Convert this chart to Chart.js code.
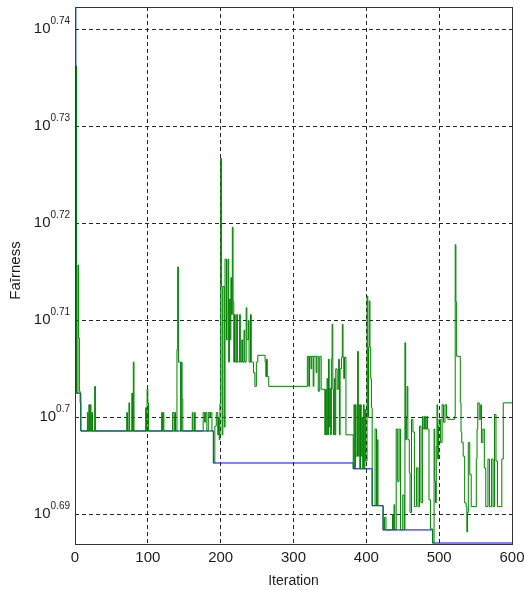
<!DOCTYPE html>
<html>
<head>
<meta charset="utf-8">
<title>Fairness vs Iteration</title>
<script src="https://cdn.jsdelivr.net/npm/chart.js@4/dist/chart.umd.min.js"></script>
<style>
  html, body { margin: 0; padding: 0; background: #ffffff; }
  canvas { display: block; }
</style>
</head>
<body>
<canvas id="chart" width="524" height="590"></canvas>
<script>
// Axis ticks
const xTickValues = [0, 100, 200, 300, 400, 500, 600];
const yTickExponents = [0.69, 0.70, 0.71, 0.72, 0.73, 0.74];

// Current fairness per iteration (log10 value, held until the next change point)
const currentIter = [
  0, 1, 2, 4, 5, 6, 7, 8, 17, 18, 19, 20, 21, 22, 23, 24, 27, 28,
  71, 72, 74, 75, 78, 79, 80, 81, 97, 98, 99, 100, 101,
  119, 120, 121, 122, 134, 136, 137, 138, 140, 141, 142, 145, 146, 147, 148,
  161, 162, 164, 165, 176, 178, 179, 181, 183, 185, 186, 188,
  190, 192, 194, 196, 197, 198, 199, 200, 201, 202, 203, 205, 206, 208,
  210, 211, 212, 213, 214, 215, 216, 217, 218, 219, 220, 222, 223, 226, 227, 229,
  230, 232, 233, 235, 236, 238, 239, 241, 242, 245, 247, 249, 251,
  261, 262, 263, 264, 266,
  319, 321, 322, 324, 325, 327, 328, 331, 332, 334, 336, 338,
  343, 344, 345, 346, 347, 348, 349, 350, 351, 352, 353, 354, 355, 356, 357, 358,
  360, 362, 363, 364, 366, 367, 368, 369, 370, 372,
  382, 383, 384, 385, 386, 388, 389, 390, 391, 392, 393, 394, 395, 396, 397, 398, 399,
  401, 402, 403, 404, 405, 406, 407, 408, 412, 414, 415, 416, 423, 425, 427,
  436, 437, 438, 439, 441, 443, 445, 447, 450, 452, 453, 454, 455, 456, 457, 459,
  460, 462, 464, 466, 469, 471, 473, 475, 477, 478, 480, 481, 483, 484, 486, 488,
  491, 493, 494, 495, 496, 497, 498, 499, 500, 502, 504, 506, 508, 510, 512,
  521, 522, 523, 524, 529, 530, 531, 533, 535, 537, 538, 539,
  540, 542, 544, 551, 552, 553, 555, 557, 558, 560, 562, 564, 567, 569,
  572, 574, 576, 578, 580, 586, 588, 600
];
const currentLogFairness = [
  0.7450, 0.7362, 0.7025, 0.7157, 0.7082, 0.7027, 0.7015, 0.6986, 0.7005, 0.6986, 0.7013, 0.6986, 0.7013, 0.6986, 0.7005, 0.6986, 0.7032, 0.6986,
  0.7005, 0.6986, 0.7015, 0.6986, 0.7025, 0.6986, 0.7057, 0.6986, 0.7010, 0.6986, 0.7029, 0.7015, 0.6986,
  0.7005, 0.6986, 0.7005, 0.6986, 0.7005, 0.6986, 0.7005, 0.6986, 0.7070, 0.7155, 0.7057, 0.6986, 0.7057, 0.7019, 0.6986,
  0.7005, 0.6986, 0.7005, 0.6986, 0.7005, 0.6995, 0.7005, 0.6986, 0.7005, 0.7000, 0.7005, 0.6986,
  0.6953, 0.6991, 0.7005, 0.6982, 0.7000, 0.6977, 0.7014, 0.7267, 0.7135, 0.6982, 0.7135, 0.6990, 0.7163, 0.7080,
  0.7163, 0.7057, 0.7122, 0.7080, 0.7144, 0.7106, 0.7196, 0.7119, 0.7057, 0.7106, 0.7057, 0.7106, 0.7057, 0.7106, 0.7057, 0.7080,
  0.7057, 0.7090, 0.7057, 0.7113, 0.7080, 0.7100, 0.7057, 0.7106, 0.7057, 0.7046, 0.7032, 0.7057, 0.7064,
  0.7057, 0.7042, 0.7060, 0.7042, 0.7032,
  0.7063, 0.7032, 0.7063, 0.7050, 0.7063, 0.7032, 0.7063, 0.7046, 0.7063, 0.7027, 0.7063, 0.7029,
  0.6982, 0.7029, 0.6982, 0.7040, 0.6982, 0.7060, 0.6990, 0.7030, 0.6982, 0.7060, 0.7096, 0.7029, 0.6982, 0.7040, 0.6982, 0.7050,
  0.7029, 0.7060, 0.6982, 0.7050, 0.7062, 0.7096, 0.7062, 0.7040, 0.7062, 0.6982,
  0.6947, 0.7013, 0.6947, 0.7013, 0.6960, 0.7068, 0.6960, 0.7013, 0.6947, 0.7013, 0.6960, 0.7000, 0.6947, 0.7013, 0.6947, 0.7008, 0.6955,
  0.7125, 0.7000, 0.7072, 0.7120, 0.7072, 0.7040, 0.7010, 0.6909, 0.6988, 0.6909, 0.6977, 0.6909, 0.6884, 0.6897, 0.6884,
  0.6900, 0.6884, 0.6910, 0.6884, 0.6988, 0.6934, 0.6988, 0.6884, 0.6920, 0.6884, 0.7077, 0.6977, 0.7001, 0.7032, 0.6977, 0.6943,
  0.6902, 0.6998, 0.6985, 0.6908, 0.6948, 0.6908, 0.6991, 0.6912, 0.7001, 0.6988, 0.7001, 0.6988, 0.7001, 0.6988, 0.6915, 0.6885,
  0.68705, 0.6988, 0.6934, 0.6912, 0.6970, 0.7013, 0.6957, 0.6991, 0.6998, 0.6974, 0.7013, 0.6995, 0.7013, 0.7001, 0.6998,
  0.7001, 0.7178, 0.7119, 0.7063, 0.7015, 0.6985, 0.6974, 0.6960, 0.6912, 0.6908, 0.6882, 0.6902,
  0.6974, 0.6941, 0.6908, 0.6957, 0.6988, 0.7015, 0.6998, 0.7013, 0.6974, 0.6988, 0.6948, 0.6908, 0.6957, 0.6908,
  0.6957, 0.6908, 0.7003, 0.6955, 0.6908, 0.6957, 0.7015, 0.7015
];

// Best fairness found so far (log10 value)
const bestIter = [0, 1, 2, 8, 190, 382, 408, 423, 491, 600];
const bestLogFairness = [0.7450, 0.7362, 0.7025, 0.6986, 0.6953, 0.6947, 0.6909, 0.6884, 0.68705, 0.68705];

const yMin = 0.68695;
const yMax = 0.7423;

const FONT = '"Liberation Sans", Arial, Helvetica, sans-serif';
const TEXT_COLOR = '#1c1c1c';

function toPoints(xs, ys) {
  return xs.map((x, i) => ({ x: x, y: ys[i] }));
}

// Frame around the plot area plus tick labels and axis titles
const frameAndLabels = {
  id: 'frameAndLabels',
  beforeDatasetsDraw(chart) {
    const { ctx, chartArea: a } = chart;
    ctx.save();
    ctx.strokeStyle = '#333333';
    ctx.lineWidth = 1;
    ctx.strokeRect(a.left + 0.5, a.top + 0.5, a.right - a.left, a.bottom - a.top);
    ctx.restore();
  },
  afterDraw(chart) {
    const { ctx, chartArea: a, scales } = chart;
    const x = scales.x, y = scales.y;
    ctx.save();
    ctx.fillStyle = TEXT_COLOR;

    // x tick labels
    ctx.font = '15px ' + FONT;
    ctx.textAlign = 'center';
    ctx.textBaseline = 'middle';
    xTickValues.forEach(v => {
      ctx.fillText(String(v), x.getPixelForValue(v), a.bottom + 14);
    });

    // y tick labels: powers of ten
    const rightEdge = a.left - 5;
    yTickExponents.forEach(e => {
      const py = y.getPixelForValue(e);
      const expText = String(e);
      ctx.textAlign = 'right';
      ctx.textBaseline = 'alphabetic';
      ctx.font = '10px ' + FONT;
      const expWidth = ctx.measureText(expText).width;
      ctx.fillText(expText, rightEdge, py - 5.5);
      ctx.font = '15px ' + FONT;
      ctx.fillText('10', rightEdge - expWidth, py + 4);
    });

    // axis titles
    ctx.font = '14px ' + FONT;
    ctx.textAlign = 'center';
    ctx.textBaseline = 'middle';
    ctx.fillText('Iteration', (a.left + a.right) / 2, a.bottom + 37);

    ctx.translate(16, (a.top + a.bottom) / 2 - 5);
    ctx.rotate(-Math.PI / 2);
    ctx.font = '15px ' + FONT;
    ctx.fillText('Fa\u012Brness', 0, 0);
    ctx.restore();
  }
};

const gridColor = '#262626';

new Chart(document.getElementById('chart').getContext('2d'), {
  type: 'line',
  data: {
    datasets: [
      {
        label: 'Fairness',
        data: toPoints(currentIter, currentLogFairness),
        borderColor: 'rgb(0,128,0)',
        borderWidth: 1,
        stepped: true,
        pointRadius: 0,
        fill: false
      },
      {
        label: 'Best fairness',
        data: toPoints(bestIter, bestLogFairness),
        borderColor: 'rgb(0,0,255)',
        borderWidth: 1,
        stepped: true,
        pointRadius: 0,
        fill: false
      }
    ]
  },
  options: {
    responsive: false,
    animation: false,
    devicePixelRatio: 1,
    layout: { padding: { left: 75, right: 12, top: 7, bottom: 46 } },
    plugins: {
      legend: { display: false },
      tooltip: { enabled: false }
    },
    scales: {
      x: {
        type: 'linear',
        min: 0,
        max: 600,
        afterBuildTicks: s => { s.ticks = xTickValues.map(v => ({ value: v })); },
        ticks: { display: false },
        grid: {
          drawTicks: false,
          lineWidth: 1,
          color: c => (c.tick && (c.tick.value === 0 || c.tick.value === 600)) ? 'rgba(0,0,0,0)' : gridColor
        },
        border: { display: false, dash: [4, 3] }
      },
      y: {
        type: 'linear',
        min: yMin,
        max: yMax,
        afterBuildTicks: s => { s.ticks = yTickExponents.map(v => ({ value: v })); },
        ticks: { display: false },
        grid: { drawTicks: false, lineWidth: 1, color: gridColor },
        border: { display: false, dash: [4, 3] }
      }
    }
  },
  plugins: [frameAndLabels]
});
</script>
</body>
</html>
